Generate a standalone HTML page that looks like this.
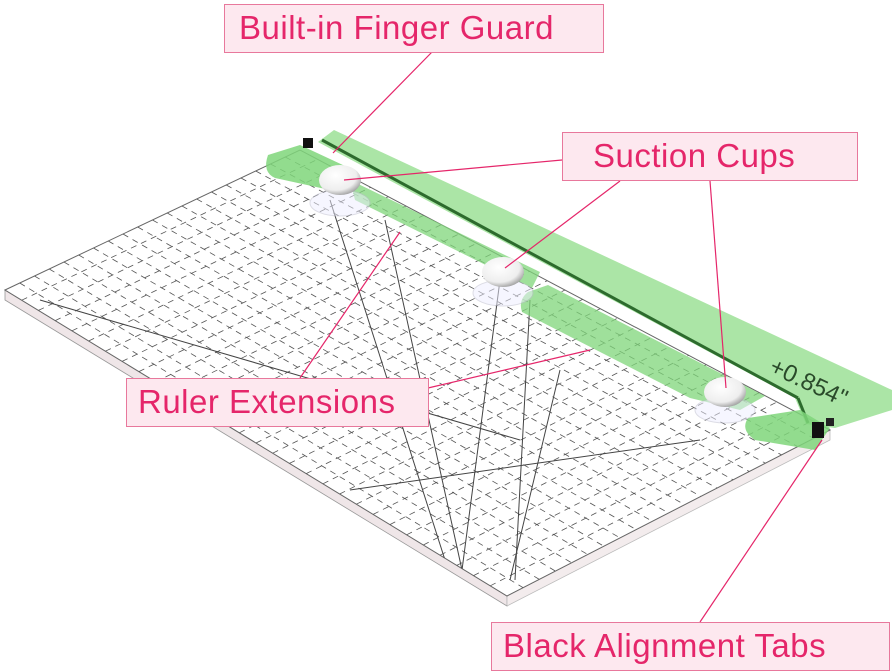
<!DOCTYPE html>
<html><head><style>
body{margin:0;background:#fff;width:892px;height:669px;overflow:hidden;position:relative;font-family:"Liberation Sans",sans-serif}
.lb{position:absolute;background:#fde8ef;border:1.5px solid #e8789c;color:#e5266a;font-size:33px;line-height:46px;padding-left:14px;box-sizing:border-box;letter-spacing:0.5px}
</style></head><body>
<svg id="s" width="892" height="669" style="position:absolute;left:0;top:0">
<defs><clipPath id="c"><polygon points="5,290 300,150 830,430 507,596"/></clipPath>
<radialGradient id="dome" cx="0.4" cy="0.35" r="0.7"><stop offset="0" stop-color="#fff"/><stop offset="0.7" stop-color="#eee"/><stop offset="1" stop-color="#999"/></radialGradient></defs>
<polygon points="5,290 507,596 507,606 5,300" fill="#efe6e8" stroke="#999" stroke-width="0.8"/>
<polygon points="507,596 830,430 830,440 507,606" fill="#f3eced" stroke="#bbb" stroke-width="0.8"/>
<polygon points="5,290 300,150 830,430 507,596" fill="#fff" stroke="#666" stroke-width="1"/>
<g id="grid" clip-path="url(#c)" stroke="#555" stroke-width="0.8" stroke-dasharray="6,5"></g>
<g clip-path="url(#c)" stroke="#444" stroke-width="1" fill="none">
<line x1="330" y1="200" x2="445" y2="560"/><line x1="385" y1="220" x2="462" y2="570"/>
<line x1="500" y1="280" x2="462" y2="570"/><line x1="530" y1="300" x2="515" y2="580"/>
<line x1="40" y1="300" x2="520" y2="440"/><line x1="350" y1="490" x2="700" y2="440"/>
<line x1="560" y1="370" x2="510" y2="580"/>
</g>
<polygon points="318,142 334,130 892,390 892,410 835,428 806,424 795,398" fill="#8fdc88" opacity="0.75"/>
<line x1="322" y1="140" x2="798" y2="398" stroke="#2d6b2d" stroke-width="3"/>
<line x1="798" y1="398" x2="808" y2="423" stroke="#2d6b2d" stroke-width="3"/>
<path d="M268,155 L300,145 L345,166 L330,190 L275,178 Q262,172 268,155Z" fill="#7fd67a" opacity="0.85"/>
<polygon points="350,180 540,272 532,288 355,200" fill="#7fd67a" opacity="0.75"/>
<path d="M548,285 L765,396 L740,410 L690,398 L522,312 Q518,300 528,292Z" fill="#7fd67a" opacity="0.75"/>
<path d="M748,418 L800,410 L830,428 L815,450 L755,440 Q740,430 748,418Z" fill="#7fd67a" opacity="0.85"/>
<rect x="303" y="138" width="10" height="10" fill="#111"/><rect x="812" y="422" width="12" height="16" fill="#111"/><rect x="826" y="418" width="8" height="8" fill="#222"/>
<ellipse cx="340" cy="203" rx="30" ry="13" fill="#eef" opacity="0.5" stroke="#bbc"/>
<ellipse cx="503" cy="293" rx="30" ry="13" fill="#eef" opacity="0.5" stroke="#bbc"/>
<ellipse cx="725" cy="410" rx="30" ry="13" fill="#eef" opacity="0.5" stroke="#bbc"/>
<ellipse cx="340" cy="180" rx="21" ry="15" fill="url(#dome)"/>
<ellipse cx="503" cy="272" rx="21" ry="15" fill="url(#dome)"/>
<ellipse cx="725" cy="392" rx="21" ry="15" fill="url(#dome)"/>
<text x="768" y="372" font-size="24" fill="#2a4a2a" transform="rotate(25 768 372)" font-family="Liberation Sans">+0.854"</text>
<g stroke="#e5266a" stroke-width="1.2" fill="none">
<line x1="432" y1="52" x2="333" y2="153"/>
<line x1="562" y1="160" x2="344" y2="180"/>
<line x1="620" y1="181" x2="505" y2="268"/>
<line x1="710" y1="181" x2="726" y2="388"/>
<line x1="300" y1="378" x2="400" y2="232"/>
<line x1="428" y1="388" x2="590" y2="350"/>
<line x1="700" y1="622" x2="822" y2="440"/>
</g>
</svg>
<script>
var g=document.getElementById('grid'),L=[5,290],T=[300,150],R=[830,430],B=[507,596];
function lp(a,b,t){return [a[0]+(b[0]-a[0])*t,a[1]+(b[1]-a[1])*t];}
function ln(p,q){var e=document.createElementNS('http://www.w3.org/2000/svg','line');e.setAttribute('x1',p[0]);e.setAttribute('y1',p[1]);e.setAttribute('x2',q[0]);e.setAttribute('y2',q[1]);g.appendChild(e);}
var n1=20,n2=30;
for(var i=1;i<n1;i++){ln(lp(L,T,i/n1),lp(B,R,i/n1));}
for(var j=1;j<n2;j++){ln(lp(L,B,j/n2),lp(T,R,j/n2));}
</script>
<div class="lb" style="left:224px;top:4px;width:380px;height:49px">Built-in Finger Guard</div>
<div class="lb" style="left:562px;top:132px;width:296px;height:49px;padding-left:30px">Suction Cups</div>
<div class="lb" style="left:126px;top:378px;width:303px;height:49px;padding-left:11px">Ruler Extensions</div>
<div class="lb" style="left:491px;top:622px;width:399px;height:49px;padding-left:11px">Black Alignment Tabs</div>
</body></html>
